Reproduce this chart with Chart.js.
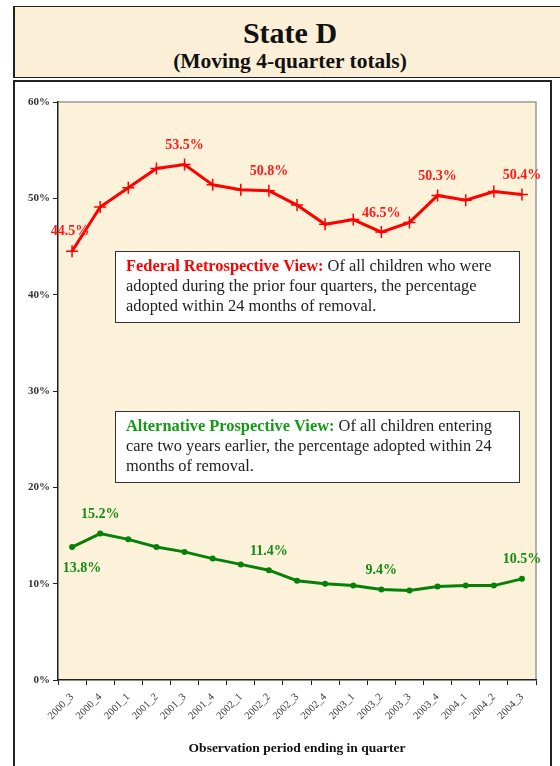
<!DOCTYPE html>
<html>
<head>
<meta charset="utf-8">
<script src="https://cdn.jsdelivr.net/npm/chart.js@4.4.1/dist/chart.umd.min.js"></script>
<style>
html, body { margin: 0; padding: 0; background: #fff; }
body { width: 560px; height: 766px; position: relative; overflow: hidden; font-family: "Liberation Serif", "DejaVu Serif", serif; }
#head { position: absolute; left: 13px; top: 6px; width: 550px; height: 70px; border: 1px solid #222; border-left-width: 2px; background: #fbf0d7; text-align: center; color: #111; }
#head .t1 { font-weight: bold; font-size: 30px; line-height: 30px; margin-top: 11px; }
#head .t2 { font-weight: bold; font-size: 21.5px; line-height: 22px; margin-top: 2px; }
#frame { position: absolute; left: 13px; top: 80px; width: 535px; height: 700px; border: 2px solid #222; background: #fff; }
#wrap { position: absolute; left: 0; top: 0; width: 560px; height: 766px; }
</style>
</head>
<body>
<div id="head"><div class="t1">State D</div><div class="t2">(Moving 4-quarter totals)</div></div>
<div id="frame"></div>
<div id="wrap"><canvas id="myChart"></canvas></div>
<script>
const quarters = [
	"2000_3", "2000_4", "2001_1", "2001_2", "2001_3", "2001_4",
	"2002_1", "2002_2", "2002_3", "2002_4", "2003_1", "2003_2",
	"2003_3", "2003_4", "2004_1", "2004_2", "2004_3",
];
const federalView = [44.5, 49.1, 51.1, 53.1, 53.5, 51.4, 50.9, 50.8, 49.3, 47.3, 47.8, 46.5, 47.5, 50.3, 49.8, 50.7, 50.4];
const alternativeView = [13.8, 15.2, 14.6, 13.8, 13.3, 12.6, 12.0, 11.4, 10.3, 10.0, 9.8, 9.4, 9.3, 9.7, 9.8, 9.8, 10.5];
const federalLabeled = [0, 4, 7, 11, 13, 16];
const alternativeLabeled = [0, 1, 7, 11, 16];

const serif = '"Liberation Serif", "DejaVu Serif", serif';

// text boxes inside the plot (pixel positions on the canvas)
const notes = [
	{
		x: 115, y: 251, w: 404, h: 71, color: "#ff0000",
		head: "Federal Retrospective View:",
		lines: [" Of all children who were", "adopted during the prior four quarters, the percentage", "adopted within 24 months of removal."],
	},
	{
		x: 115, y: 411, w: 404, h: 71, color: "#139a13",
		head: "Alternative Prospective View:",
		lines: [" Of all children entering", "care two years earlier, the percentage adopted within 24", "months of removal."],
	},
];

const plotBackground = {
	id: "plotBackground",
	beforeDraw(chart) {
		const { ctx, chartArea: a } = chart;
		ctx.save();
		ctx.fillStyle = "#fcf1d9";
		ctx.fillRect(a.left, a.top, a.right - a.left, a.bottom - a.top);
		ctx.strokeStyle = "#9a9a9a";
		ctx.lineWidth = 1.5;
		ctx.beginPath();
		ctx.moveTo(a.left, a.top);
		ctx.lineTo(a.right, a.top);
		ctx.lineTo(a.right, a.bottom);
		ctx.stroke();
		ctx.restore();
	},
};

const valueLabels = {
	id: "valueLabels",
	afterDatasetsDraw(chart) {
		const ctx = chart.ctx;
		ctx.save();
		ctx.font = "bold 14px " + serif;
		ctx.textAlign = "center";
		ctx.textBaseline = "middle";
		chart.data.datasets.forEach((ds, di) => {
			const meta = chart.getDatasetMeta(di);
			ds.labelAt.forEach((i) => {
				const pt = meta.data[i];
				const off = ds.labelOffset[i] || [0, -19];
				ctx.fillStyle = ds.labelColor;
				ctx.fillText(ds.data[i].toFixed(1) + "%", pt.x + off[0], pt.y + off[1]);
			});
		});
		ctx.restore();
	},
};

const noteBoxes = {
	id: "noteBoxes",
	afterDatasetsDraw(chart) {
		const ctx = chart.ctx;
		ctx.save();
		notes.forEach((n) => {
			ctx.fillStyle = "#fff";
			ctx.fillRect(n.x, n.y, n.w, n.h);
			ctx.strokeStyle = "#333";
			ctx.lineWidth = 1;
			ctx.strokeRect(n.x + 0.5, n.y + 0.5, n.w, n.h);
			ctx.textBaseline = "middle";
			ctx.textAlign = "left";
			const tx = n.x + 11;
			let ty = n.y + 16;
			ctx.font = "bold 16.4px " + serif;
			ctx.fillStyle = n.color;
			ctx.fillText(n.head, tx, ty);
			const hw = ctx.measureText(n.head).width;
			ctx.font = "16.4px " + serif;
			ctx.fillStyle = "#222";
			ctx.fillText(n.lines[0], tx + hw, ty);
			for (let i = 1; i < n.lines.length; i++) {
				ty += 20;
				ctx.fillText(n.lines[i], tx, ty);
			}
		});
		ctx.restore();
	},
};

const data = {
	labels: quarters,
	datasets: [
		{
			data: federalView,
			borderColor: "#ff0000",
			backgroundColor: "#ff0000",
			borderWidth: 3,
			pointStyle: "cross",
			pointRadius: 6,
			pointBorderWidth: 1.5,
			labelAt: federalLabeled,
			labelColor: "#ff1a1a",
			labelOffset: { 0: [-2, -20] },
		},
		{
			data: alternativeView,
			borderColor: "#078007",
			backgroundColor: "#078007",
			borderWidth: 3,
			pointStyle: "circle",
			pointRadius: 3,
			pointBorderWidth: 0,
			labelAt: alternativeLabeled,
			labelColor: "#138c13",
			labelOffset: { 0: [10, 21] },
		},
	],
};

const config = {
	type: "line",
	data,
	options: {
		responsive: false,
		animation: false,
		layout: { padding: { left: 0, right: 24, top: 102, bottom: 0 } },
		plugins: {
			legend: { display: false },
			tooltip: { enabled: false },
		},
		scales: {
			x: {
				offset: true,
				grid: { offset: true, drawOnChartArea: false, tickLength: 5, color: "#222", tickWidth: 1 },
				border: { color: "#222", width: 1.5 },
				ticks: { minRotation: 45, maxRotation: 45, padding: 6, color: "#333", font: { family: serif, size: 10.5 } },
				title: {
					display: true,
					text: "Observation period ending in quarter",
					color: "#111",
					font: { family: serif, size: 13.5, weight: "bold" },
					padding: { top: 0, bottom: 9 },
				},
				afterFit(scale) { scale.height = 86; },
			},
			y: {
				min: 0,
				max: 60,
				grid: { drawOnChartArea: false, tickLength: 5, color: "#222" },
				border: { color: "#222", width: 1.5 },
				ticks: {
					stepSize: 10,
					padding: 3,
					color: "#333",
					font: { family: serif, size: 11, weight: "bold" },
					callback: (v) => v + "%",
				},
				afterFit(scale) { scale.width = 58; },
			},
		},
	},
	plugins: [plotBackground, valueLabels, noteBoxes],
};

const canvas = document.getElementById("myChart");
canvas.width = 560;
canvas.height = 766;
var myChart = new Chart(canvas, config);
</script>
</body>
</html>
